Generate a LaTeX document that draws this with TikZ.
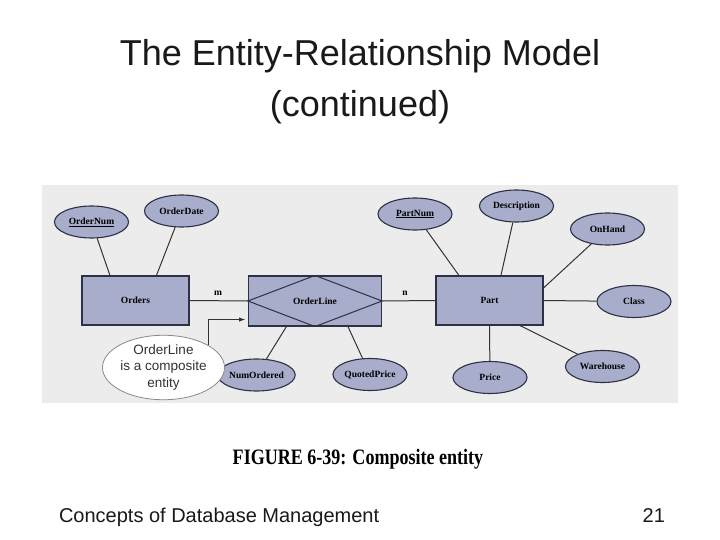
\documentclass[tikz,border=0pt]{standalone}
\usepackage{fontspec}
\setmainfont{Liberation Serif}
\setsansfont{Liberation Sans}
\usepackage{tikz}
\usetikzlibrary{calc,shapes.geometric}
\definecolor{panelgray}{HTML}{ECECEC}
\definecolor{erfill}{HTML}{A7ADCA}
\definecolor{erline}{HTML}{2E3145}
\definecolor{noteline}{HTML}{8A8A8A}
\definecolor{notetext}{HTML}{333333}

\begin{document}
\begin{tikzpicture}[x=1pt,y=-1pt,
	entity/.style={draw=erline,fill=erfill,line width=1.1pt,minimum width=107pt,minimum height=49pt,inner sep=0pt,font=\fontsize{9.5}{11}\selectfont\bfseries},
	attr/.style={ellipse,draw=erline,fill=erfill,line width=1.1pt,minimum width=74pt,minimum height=32pt,inner sep=0pt,font=\fontsize{9.5}{11}\selectfont\bfseries},
	link/.style={draw=black!80,line width=1pt},
	card/.style={font=\fontsize{9.5}{11}\selectfont\bfseries},
	note/.style={ellipse,draw=noteline,fill=white,line width=.8pt,minimum width=100pt,minimum height=58pt,inner sep=0pt,align=center,text=notetext,font=\sffamily\fontsize{13.5}{16.5}\selectfont}]
\useasboundingbox (0,0) rectangle (720,540);
\node[anchor=base,font=\sffamily\fontsize{36}{40}\selectfont,text=black!90] (title1) at (360,66) {The Entity-Relationship Model};
\node[anchor=base,font=\sffamily\fontsize{36}{40}\selectfont,text=black!90] (title2) at (360,116.5) {(continued)};
\fill[panelgray] (42,185) rectangle (678,403);
\node[entity] (orders) at (135.5,300.5) {Orders};
\node[entity,minimum width=133pt,minimum height=50pt] (orderline) at (315,301) {};
\draw[erline,line width=1pt] (orderline.north) -- (orderline.east) -- (orderline.south) -- (orderline.west) -- cycle;
\node[card] (orderlinetxt) at (orderline.center) {OrderLine};
\node[entity] (part) at (489.5,300.5) {Part};
\foreach \name/\pos/\txt in {ordernum/{(91.5,222)}/{\underline{OrderNum}},
	orderdate/{(181.5,211)}/{OrderDate},
	partnum/{(415,214)}/{\underline{PartNum}},
	description/{(516.5,206)}/{Description},
	onhand/{(607.5,229)}/{OnHand},
	class/{(634,301.5)}/{Class},
	warehouse/{(602.5,366.5)}/{Warehouse},
	price/{(490,377.5)}/{Price},
	quotedprice/{(370,374.5)}/{QuotedPrice},
	numordered/{(256.5,375)}/{NumOrdered}}{
	\node[attr] (\name) at \pos {\txt};
	}
\coordinate (orders-a) at ($(orders.north west)+(28.5,0)$);
\coordinate (orders-b) at ($(orders.north west)+(75,0)$);
\coordinate (part-a) at ($(part.north west)+(23.5,0)$);
\coordinate (part-b) at ($(part.north west)+(65.5,0)$);
\coordinate (part-c) at ($(part.north east)+(0,12.5)$);
\coordinate (part-d) at ($(part.south west)+(84.5,0)$);
\coordinate (orderline-a) at ($(orderline.south west)+(38.5,0)$);
\coordinate (orderline-b) at ($(orderline.south west)+(100,0)$);
\foreach \a/\b in {ordernum/orders-a,orderdate/orders-b,partnum/part-a,description/part-b,
	onhand/part-c,class/part.east,warehouse/part-d,price/part.south,
	numordered/orderline-a,quotedprice/orderline-b,orders.east/orderline.west,orderline.east/part.west}{
	\draw[link] (\a) -- (\b);
	}
\node[card] (m) at (218,293) {m};
\node[card] (n) at (405,293) {n};
\node[note] (composite) at (163.5,367.5) {OrderLine\\is a composite\\entity};
\coordinate (arrowtip) at ($(orderline.south west)+(-3,-7)$);
\draw[link,-latex] (composite.26) |- (arrowtip);
\node[anchor=base,font=\bfseries] (caption) at (358,464) {\scalebox{0.82}[1]{\fontsize{22}{26}\selectfont FIGURE 6-39: Composite entity}};
\node[anchor=base west,font=\sffamily\fontsize{20}{24}\selectfont,text=black!90] (footer) at (55.5,522.5) {Concepts of Database Management};
\node[anchor=base east,font=\sffamily\fontsize{20}{24}\selectfont,text=black!90] (pagenum) at (668.5,522.5) {21};
\end{tikzpicture}
\end{document}
